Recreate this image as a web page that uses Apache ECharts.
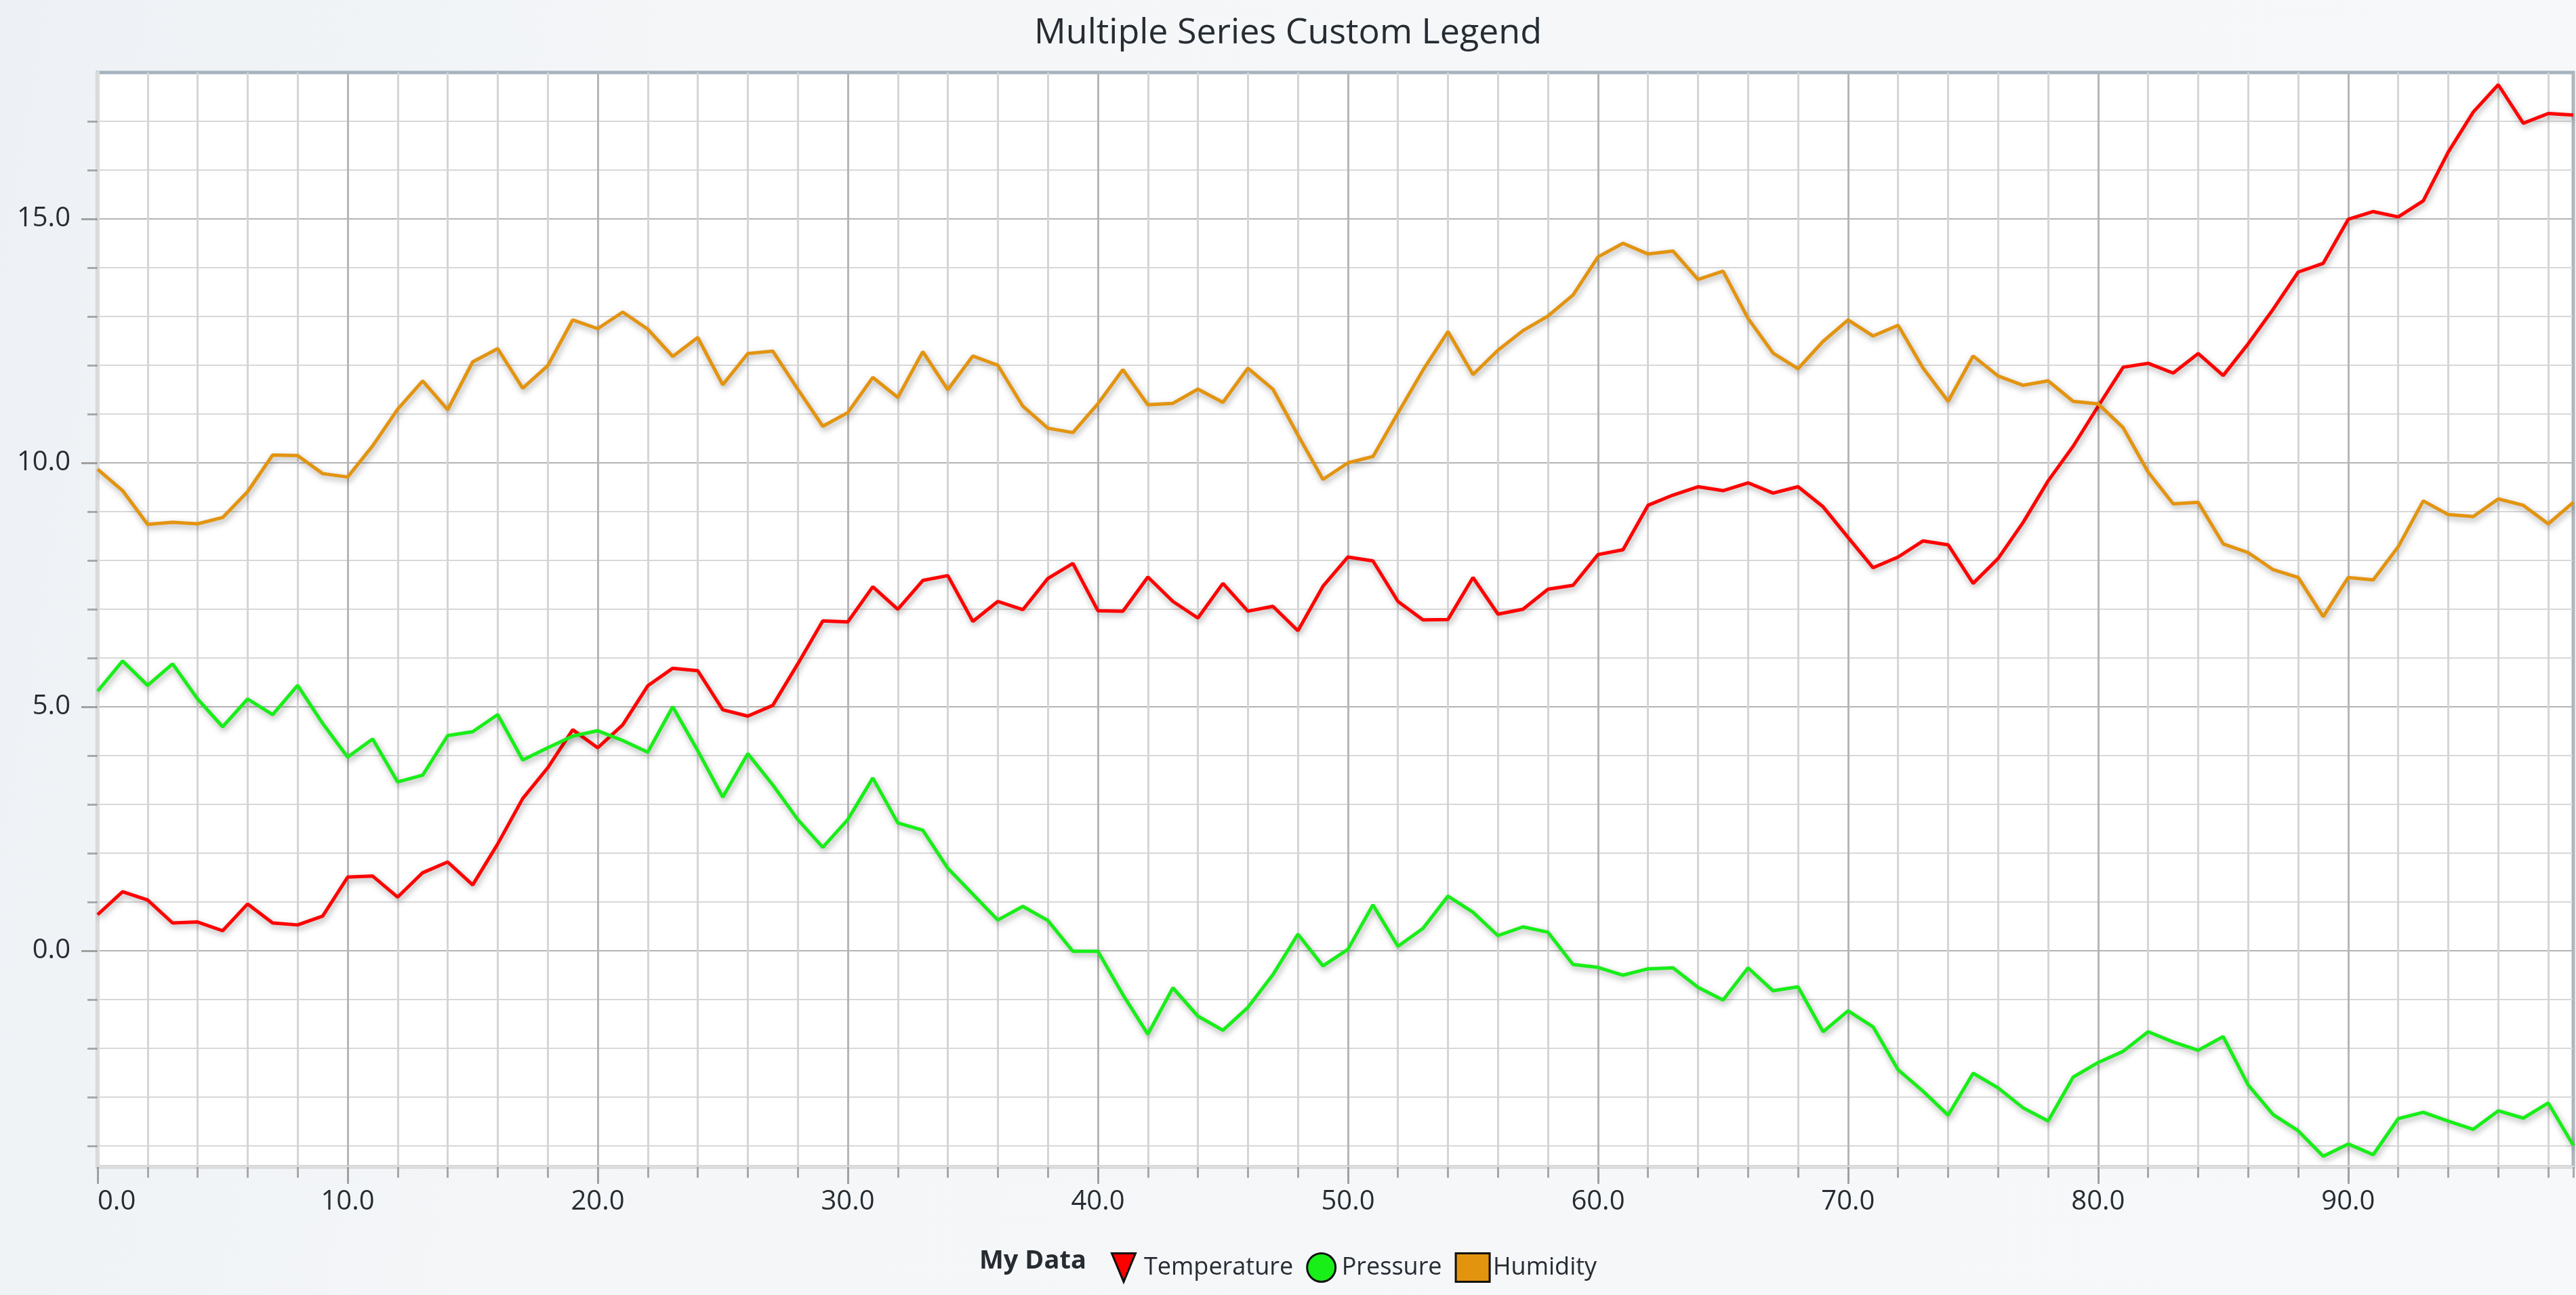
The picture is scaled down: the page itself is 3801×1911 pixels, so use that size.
<!DOCTYPE html>
<html>
<head>
<meta charset="utf-8">
<title>Multiple Series Custom Legend</title>
<script src="https://cdn.jsdelivr.net/npm/echarts@6/dist/echarts.min.js"></script>
<style>
  html, body { margin: 0; padding: 0; }
  body { background: linear-gradient(100deg, #edf1f5 0%, #f4f6f8 25%, #f6f8f9 100%); }
  #chart { width: 3801px; height: 1911px; }
</style>
</head>
<body>
<div id="chart"></div>
<script>
// chart data
var titleText = 'Multiple Series Custom Legend';
var legendTitle = 'My Data';
var seriesNames = ['Temperature', 'Pressure', 'Humidity'];

var temperature = [
  0.74, 1.21, 1.04, 0.57, 0.59, 0.41, 0.96, 0.57, 0.53, 0.71,
  1.51, 1.53, 1.10, 1.60, 1.82, 1.35, 2.19, 3.12, 3.75, 4.53,
  4.16, 4.63, 5.43, 5.79, 5.74, 4.94, 4.81, 5.03, 5.88, 6.76,
  6.74, 7.46, 7.00, 7.59, 7.69, 6.75, 7.16, 6.99, 7.63, 7.94,
  6.97, 6.96, 7.66, 7.16, 6.82, 7.53, 6.96, 7.06, 6.56, 7.47,
  8.07, 7.99, 7.16, 6.78, 6.79, 7.65, 6.90, 7.00, 7.41, 7.49,
  8.12, 8.22, 9.13, 9.34, 9.51, 9.43, 9.59, 9.38, 9.51, 9.10,
  8.47, 7.85, 8.07, 8.40, 8.32, 7.53, 8.04, 8.78, 9.63, 10.34,
  11.16, 11.96, 12.04, 11.84, 12.24, 11.79, 12.44, 13.15, 13.91, 14.09,
  14.99, 15.15, 15.04, 15.37, 16.37, 17.19, 17.75, 16.96, 17.16, 17.13
];

var pressure = [
  5.32, 5.94, 5.44, 5.88, 5.16, 4.59, 5.16, 4.84, 5.44, 4.66,
  3.97, 4.34, 3.46, 3.60, 4.41, 4.49, 4.84, 3.91, 4.16, 4.40,
  4.51, 4.31, 4.07, 5.00, 4.10, 3.15, 4.04, 3.40, 2.69, 2.12,
  2.69, 3.54, 2.62, 2.47, 1.69, 1.16, 0.63, 0.91, 0.62, -0.01,
  -0.01, -0.90, -1.71, -0.76, -1.34, -1.63, -1.16, -0.49, 0.34, -0.31,
  0.03, 0.94, 0.09, 0.46, 1.12, 0.79, 0.31, 0.49, 0.38, -0.28,
  -0.34, -0.50, -0.37, -0.35, -0.75, -1.01, -0.35, -0.82, -0.74, -1.66,
  -1.23, -1.56, -2.44, -2.88, -3.37, -2.51, -2.81, -3.22, -3.49, -2.59,
  -2.29, -2.06, -1.66, -1.87, -2.04, -1.76, -2.75, -3.36, -3.69, -4.21,
  -3.96, -4.18, -3.44, -3.31, -3.49, -3.66, -3.28, -3.43, -3.12, -3.99
];

var humidity = [
  9.87, 9.43, 8.74, 8.78, 8.75, 8.88, 9.41, 10.16, 10.15, 9.78,
  9.71, 10.35, 11.10, 11.68, 11.09, 12.07, 12.34, 11.53, 11.99, 12.93,
  12.75, 13.09, 12.74, 12.18, 12.57, 11.60, 12.24, 12.29, 11.51, 10.75,
  11.03, 11.75, 11.34, 12.28, 11.50, 12.19, 12.00, 11.16, 10.71, 10.62,
  11.21, 11.91, 11.19, 11.22, 11.51, 11.24, 11.94, 11.51, 10.57, 9.66,
  10.00, 10.13, 11.02, 11.90, 12.69, 11.81, 12.31, 12.71, 13.01, 13.44,
  14.22, 14.50, 14.28, 14.34, 13.76, 13.93, 12.96, 12.25, 11.93, 12.49,
  12.93, 12.60, 12.82, 11.94, 11.26, 12.19, 11.78, 11.59, 11.68, 11.26,
  11.21, 10.72, 9.81, 9.16, 9.19, 8.34, 8.16, 7.81, 7.65, 6.85,
  7.65, 7.60, 8.28, 9.22, 8.94, 8.90, 9.26, 9.13, 8.75, 9.19
];

// axis ticks
var xMin = 0, xMax = 99;
var yMin = -4.43, yMax = 18.0;
var yMajorTicks = [0, 5, 10, 15];
var yMinorTicks = [-4, -3, -2, -1, 1, 2, 3, 4, 6, 7, 8, 9, 11, 12, 13, 14, 16, 17];

var colors = ['#ff0000', '#18ee18', '#e3940f'];
var textColor = '#262c32';
var fontFamily = '"Open Sans", "Noto Sans", sans-serif';

function toPoints(values) {
  var pts = [];
  for (var i = 0; i < values.length; i++) {
    pts.push([i, values[i]]);
  }
  return pts;
}

var myChart = echarts.init(document.getElementById('chart'));

var shadow = {
  shadowBlur: 10,
  shadowColor: 'rgba(0,0,0,0.35)',
  shadowOffsetX: 2,
  shadowOffsetY: 4
};

function lineSeries(name, values, color) {
  return {
    name: name,
    type: 'line',
    xAxisIndex: 0,
    yAxisIndex: 0,
    data: toPoints(values),
    showSymbol: false,
    symbol: 'none',
    itemStyle: { color: color },
    lineStyle: Object.assign({ color: color, width: 5 }, shadow),
    emphasis: { disabled: true }
  };
}

myChart.setOption({
  animation: false,
  backgroundColor: 'transparent',
  title: {
    text: titleText,
    left: 'center',
    top: 18,
    textStyle: {
      fontFamily: fontFamily,
      fontSize: 52,
      fontWeight: 'normal',
      color: textColor
    }
  },
  grid: {
    left: 144,
    right: 4,
    top: 107,
    bottom: 189,
    show: true,
    backgroundColor: '#ffffff',
    borderColor: '#a5b3bf',
    borderWidth: 5
  },
  xAxis: [
    {
      // minor grid every 2
      type: 'value',
      position: 'bottom',
      min: xMin,
      max: xMax,
      interval: 2,
      axisLine: { show: true, onZero: false, lineStyle: { color: '#dcdcdc', width: 5 } },
      axisTick: { show: true, length: 16, lineStyle: { color: '#a8a8a8', width: 3 } },
      axisLabel: { show: false },
      splitLine: { show: true, lineStyle: { color: '#d5d5d5', width: 3 } }
    },
    {
      // major grid every 10 with labels
      type: 'value',
      position: 'bottom',
      min: xMin,
      max: xMax,
      interval: 10,
      axisLine: { show: false, onZero: false },
      axisTick: { show: true, length: 25, lineStyle: { color: '#a0a0a0', width: 3 } },
      axisLabel: {
        show: true,
        showMaxLabel: false,
        alignMinLabel: 'left',
        margin: 32,
        fontFamily: fontFamily,
        fontSize: 40,
        color: textColor,
        formatter: function (v) { return v.toFixed(1); }
      },
      splitLine: { show: true, lineStyle: { color: '#b6b6b6', width: 3 } }
    }
  ],
  yAxis: [
    {
      // minor grid every 1
      type: 'value',
      position: 'left',
      min: yMin,
      max: yMax,
      axisLine: { show: true, onZero: false, lineStyle: { color: '#dcdcdc', width: 5 } },
      axisTick: { show: true, length: 15, customValues: yMinorTicks, lineStyle: { color: '#a8a8a8', width: 3 } },
      axisLabel: { show: false },
      splitLine: { show: true, lineStyle: { color: '#d8d8d8', width: 2 } }
    },
    {
      // major grid every 5 with labels
      type: 'value',
      position: 'left',
      min: yMin,
      max: yMax,
      axisLine: { show: false, onZero: false },
      axisTick: { show: true, length: 24, customValues: yMajorTicks, lineStyle: { color: '#a0a0a0', width: 3 } },
      axisLabel: {
        show: true,
        customValues: yMajorTicks,
        margin: 40,
        fontFamily: fontFamily,
        fontSize: 40,
        color: textColor,
        formatter: function (v) { return v.toFixed(1); }
      },
      splitLine: { show: true, lineStyle: { color: '#b4b4b4', width: 2 } }
    }
  ],
  legend: {
    left: 1634,
    top: 1843,
    itemWidth: 50,
    itemHeight: 42,
    itemGap: 19,
    selectedMode: false,
    textStyle: { fontFamily: fontFamily, fontSize: 36, color: textColor },
    itemStyle: { borderColor: '#111111', borderWidth: 3 },
    lineStyle: { width: 0, opacity: 0 },
    data: [
      { name: seriesNames[0], icon: 'path://M0,0L10,0L5,12Z' },
      { name: seriesNames[1], icon: 'circle' },
      { name: seriesNames[2], icon: 'rect' }
    ]
  },
  graphic: [
    {
      type: 'text',
      left: 1445,
      top: 1842,
      style: {
        text: legendTitle,
        font: 'bold 38px "Open Sans", "Noto Sans", sans-serif',
        fill: textColor
      }
    }
  ],
  series: [
    lineSeries(seriesNames[0], temperature, colors[0]),
    lineSeries(seriesNames[1], pressure, colors[1]),
    lineSeries(seriesNames[2], humidity, colors[2])
  ]
});
</script>
</body>
</html>
